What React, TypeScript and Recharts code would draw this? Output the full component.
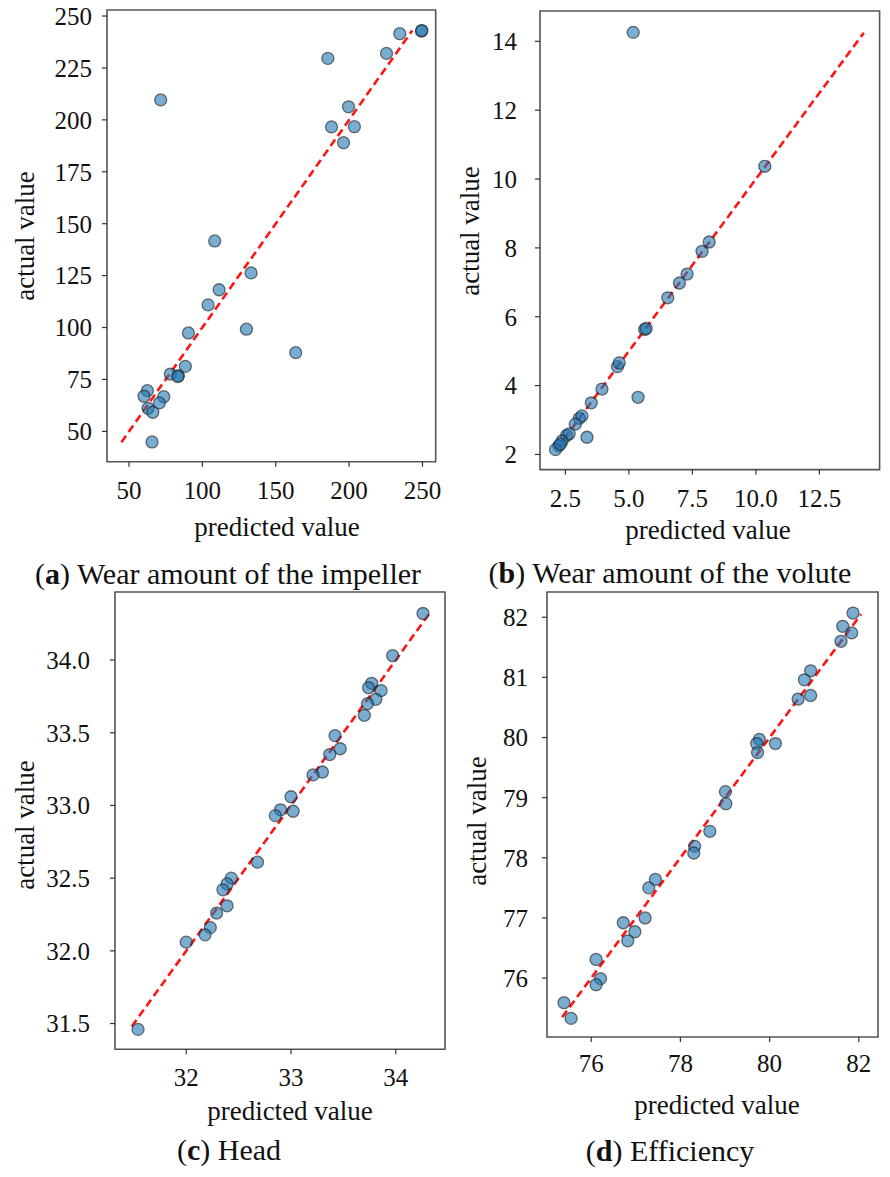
import { ScatterChart, Scatter, XAxis, YAxis, ReferenceArea, ReferenceLine } from "recharts";

// ---------------------------------------------------------------------------
// DATA
// ---------------------------------------------------------------------------

// (a) wear amount of the impeller
const impellerPred = [71.6, 185.5, 234.5, 249.3, 249.6, 225.5, 199.6, 188, 203.6, 196.2, 108.4, 133.2, 111.4, 103.9, 90.5, 130, 163.6, 88.4, 78.2, 83.7, 83.2, 62.5, 60.2, 73.7, 70.7, 63, 66.2, 65.7];
const impellerActual = [209.6, 229.6, 241.5, 242.8, 243.0, 232, 206.3, 196.6, 196.7, 189, 141.7, 126.3, 118.2, 110.9, 97.4, 99.2, 87.9, 81.3, 77.6, 76.8, 76.4, 69.6, 66.9, 66.7, 63.7, 61.1, 59.2, 44.9];
const impellerFit = [44.8, 243];
const impellerXTicks = [50, 100, 150, 200, 250];
const impellerYTicks = [50, 75, 100, 125, 150, 175, 200, 225, 250];

// (b) wear amount of the volute
const volutePred = [5.17, 10.35, 8.16, 7.88, 7.29, 6.99, 6.53, 5.62, 5.68, 4.55, 4.62, 3.94, 3.52, 5.36, 3.05, 3.15, 2.89, 3.35, 2.55, 2.65, 2.37, 2.24, 2.11, 2.3];
const voluteActual = [14.26, 10.37, 8.17, 7.9, 7.24, 6.98, 6.55, 5.63, 5.66, 4.55, 4.66, 3.9, 3.5, 3.66, 3.05, 3.12, 2.88, 2.5, 2.55, 2.6, 2.39, 2.25, 2.14, 2.3];
const voluteFit = [2.15, 14.25];
const voluteXTicks = [2.5, 5, 7.5, 10, 12.5];
const voluteYTicks = [2, 4, 6, 8, 10, 12, 14];

// (c) head
const headPred = [34.26, 33.97, 33.77, 33.74, 33.86, 33.81, 33.73, 33.7, 33.42, 33.47, 33.37, 33.3, 33.21, 33.0, 32.9, 33.02, 32.85, 32.68, 32.43, 32.39, 32.35, 32.39, 32.29, 32.23, 32.18, 32.0, 31.54];
const headActual = [34.32, 34.03, 33.84, 33.81, 33.79, 33.73, 33.7, 33.62, 33.48, 33.39, 33.35, 33.23, 33.21, 33.06, 32.97, 32.96, 32.93, 32.61, 32.5, 32.46, 32.42, 32.31, 32.26, 32.16, 32.11, 32.06, 31.46];
const headFit = [31.48, 34.33];
const headXTicks = [32, 33, 34];
const headYTicks = [31.5, 32, 32.5, 33, 33.5, 34];

// (d) efficiency
const effPred = [81.87, 81.64, 81.84, 81.6, 80.92, 80.78, 80.92, 80.64, 79.77, 79.71, 80.13, 79.73, 79.01, 79.02, 78.66, 78.32, 78.3, 77.44, 77.29, 77.21, 76.72, 76.98, 76.82, 76.11, 76.21, 76.11, 75.39, 75.55];
const effActual = [82.07, 81.85, 81.74, 81.6, 81.11, 80.96, 80.7, 80.64, 79.97, 79.9, 79.9, 79.75, 79.1, 78.9, 78.44, 78.19, 78.08, 77.64, 77.5, 77.0, 76.92, 76.77, 76.62, 76.31, 75.99, 75.89, 75.59, 75.33];
const effFit = [75.35, 82.05];
const effXTicks = [76, 78, 80, 82];
const effYTicks = [76, 77, 78, 79, 80, 81, 82];

// ---------------------------------------------------------------------------
// STYLE
// ---------------------------------------------------------------------------

const FONT = "'Liberation Serif', Tinos, 'Times New Roman', 'DejaVu Serif', serif";
const TICK_FONT = 25;
const TITLE_FONT = 27;
const CAPTION_FONT = 30;

const Dot = (p: any) => (
  <circle
    cx={p.cx}
    cy={p.cy}
    r={6}
    fill="#1f77b4"
    fillOpacity={0.6}
    stroke="#1a1a1a"
    strokeOpacity={0.6}
    strokeWidth={1.3}
  />
);

interface PanelProps {
  pred: number[];
  actual: number[];
  fit: number[];
  xTicks: number[];
  yTicks: number[];
  xDigits: number;
  yDigits: number;
  xDomain: [number, number];
  yDomain: [number, number];
  box: { l: number; t: number; r: number; b: number };
  yGap: number;
  xGap: number;
  marginRight: number;
}

function Panel(props: PanelProps) {
  const { pred, actual, fit, xTicks, yTicks, xDigits, yDigits, xDomain, yDomain, box, yGap, xGap, marginRight } = props;
  const yw = 90;
  const xh = 45;
  const m = { top: 15, right: marginRight, bottom: 5, left: 5 };
  const width = box.r - box.l + yw + m.left + m.right;
  const height = box.b - box.t + m.top + xh + m.bottom;
  const rows = pred.map((x, i) => ({ x, y: actual[i] }));
  const tickStyle = { fill: "#111", fontSize: TICK_FONT, fontFamily: FONT };

  return (
    <div style={{ position: "absolute", left: box.l - yw - m.left, top: box.t - m.top }}>
      <ScatterChart width={width} height={height} margin={m} style={{ fontFamily: FONT }}>
        <XAxis
          type="number"
          dataKey="x"
          domain={xDomain}
          ticks={xTicks}
          interval={0}
          allowDataOverflow
          height={xh}
          axisLine={false}
          tickSize={5}
          tickMargin={xGap}
          tickLine={{ stroke: "#333", strokeWidth: 1.2 }}
          tick={tickStyle}
          tickFormatter={(v: number) => v.toFixed(xDigits)}
        />
        <YAxis
          type="number"
          dataKey="y"
          domain={yDomain}
          ticks={yTicks}
          interval={0}
          allowDataOverflow
          width={yw}
          axisLine={false}
          tickSize={5}
          tickMargin={yGap}
          tickLine={{ stroke: "#333", strokeWidth: 1.2 }}
          tick={tickStyle}
          tickFormatter={(v: number) => v.toFixed(yDigits)}
        />
        <ReferenceArea
          x1={xDomain[0]}
          x2={xDomain[1]}
          y1={yDomain[0]}
          y2={yDomain[1]}
          fill="none"
          stroke="#555"
          strokeWidth={1.6}
          ifOverflow="visible"
        />
        <Scatter data={rows} shape={Dot} isAnimationActive={false} />
        <ReferenceLine
          segment={[{ x: fit[0], y: fit[0] }, { x: fit[1], y: fit[1] }]}
          stroke="#ff1414"
          strokeWidth={2.6}
          strokeDasharray="8 4.5"
          ifOverflow="visible"
        />
      </ScatterChart>
    </div>
  );
}

function Label({ x, y, text, rotate = false }: { x: number; y: number; text: string; rotate?: boolean }) {
  return (
    <div
      style={{
        position: "absolute",
        left: x,
        top: y,
        transform: `translate(-50%, -50%)${rotate ? " rotate(-90deg)" : ""}`,
        whiteSpace: "nowrap",
        fontSize: TITLE_FONT,
        lineHeight: 1,
        color: "#111",
      }}
    >
      {text}
    </div>
  );
}

function Caption({ x, y, letter, text }: { x: number; y: number; letter: string; text: string }) {
  return (
    <div
      style={{
        position: "absolute",
        left: x,
        top: y,
        transform: "translate(-50%, -50%)",
        whiteSpace: "nowrap",
        fontSize: CAPTION_FONT,
        lineHeight: 1,
        color: "#111",
      }}
    >
      (<b>{letter}</b>) {text}
    </div>
  );
}

export default function App() {
  return (
    <div
      style={{
        position: "absolute",
        left: 0,
        top: 0,
        width: 890,
        height: 1177,
        background: "#fff",
        fontFamily: FONT,
        overflow: "hidden",
      }}
    >
      <Panel
        pred={impellerPred}
        actual={impellerActual}
        fit={impellerFit}
        xTicks={impellerXTicks}
        yTicks={impellerYTicks}
        xDigits={0}
        yDigits={0}
        xDomain={[35, 259]}
        yDomain={[35.4, 252.9]}
        box={{ l: 107.3, t: 10, r: 436, b: 461.7 }}
        yGap={10}
        xGap={14.5}
        marginRight={20}
      />
      <Panel
        pred={volutePred}
        actual={voluteActual}
        fit={voluteFit}
        xTicks={voluteXTicks}
        yTicks={voluteYTicks}
        xDigits={1}
        yDigits={0}
        xDomain={[1.5, 14.87]}
        yDomain={[1.56, 14.88]}
        box={{ l: 539.7, t: 10.7, r: 879.3, b: 469.3 }}
        yGap={18}
        xGap={14.5}
        marginRight={8}
      />
      <Panel
        pred={headPred}
        actual={headActual}
        fit={headFit}
        xTicks={headXTicks}
        yTicks={headYTicks}
        xDigits={0}
        yDigits={1}
        xDomain={[31.32, 34.47]}
        yDomain={[31.323, 34.468]}
        box={{ l: 115, t: 591.7, r: 445, b: 1049 }}
        yGap={20}
        xGap={14}
        marginRight={20}
      />
      <Panel
        pred={effPred}
        actual={effActual}
        fit={effFit}
        xTicks={effXTicks}
        yTicks={effYTicks}
        xDigits={0}
        yDigits={0}
        xDomain={[75.01, 82.43]}
        yDomain={[75.02, 82.42]}
        box={{ l: 546.7, t: 592.3, r: 877.7, b: 1037.3 }}
        yGap={14}
        xGap={12.5}
        marginRight={10}
      />

      <Label x={277} y={527} text="predicted value" />
      <Label x={25} y={236} text="actual value" rotate />
      <Label x={708} y={530} text="predicted value" />
      <Label x={470} y={231} text="actual value" rotate />
      <Label x={290} y={1111} text="predicted value" />
      <Label x={25} y={825} text="actual value" rotate />
      <Label x={717} y={1105} text="predicted value" />
      <Label x={477} y={821} text="actual value" rotate />

      <Caption x={228} y={574} letter="a" text="Wear amount of the impeller" />
      <Caption x={670} y={573} letter="b" text="Wear amount of the volute" />
      <Caption x={229} y={1150} letter="c" text="Head" />
      <Caption x={670} y={1151} letter="d" text="Efficiency" />
    </div>
  );
}
